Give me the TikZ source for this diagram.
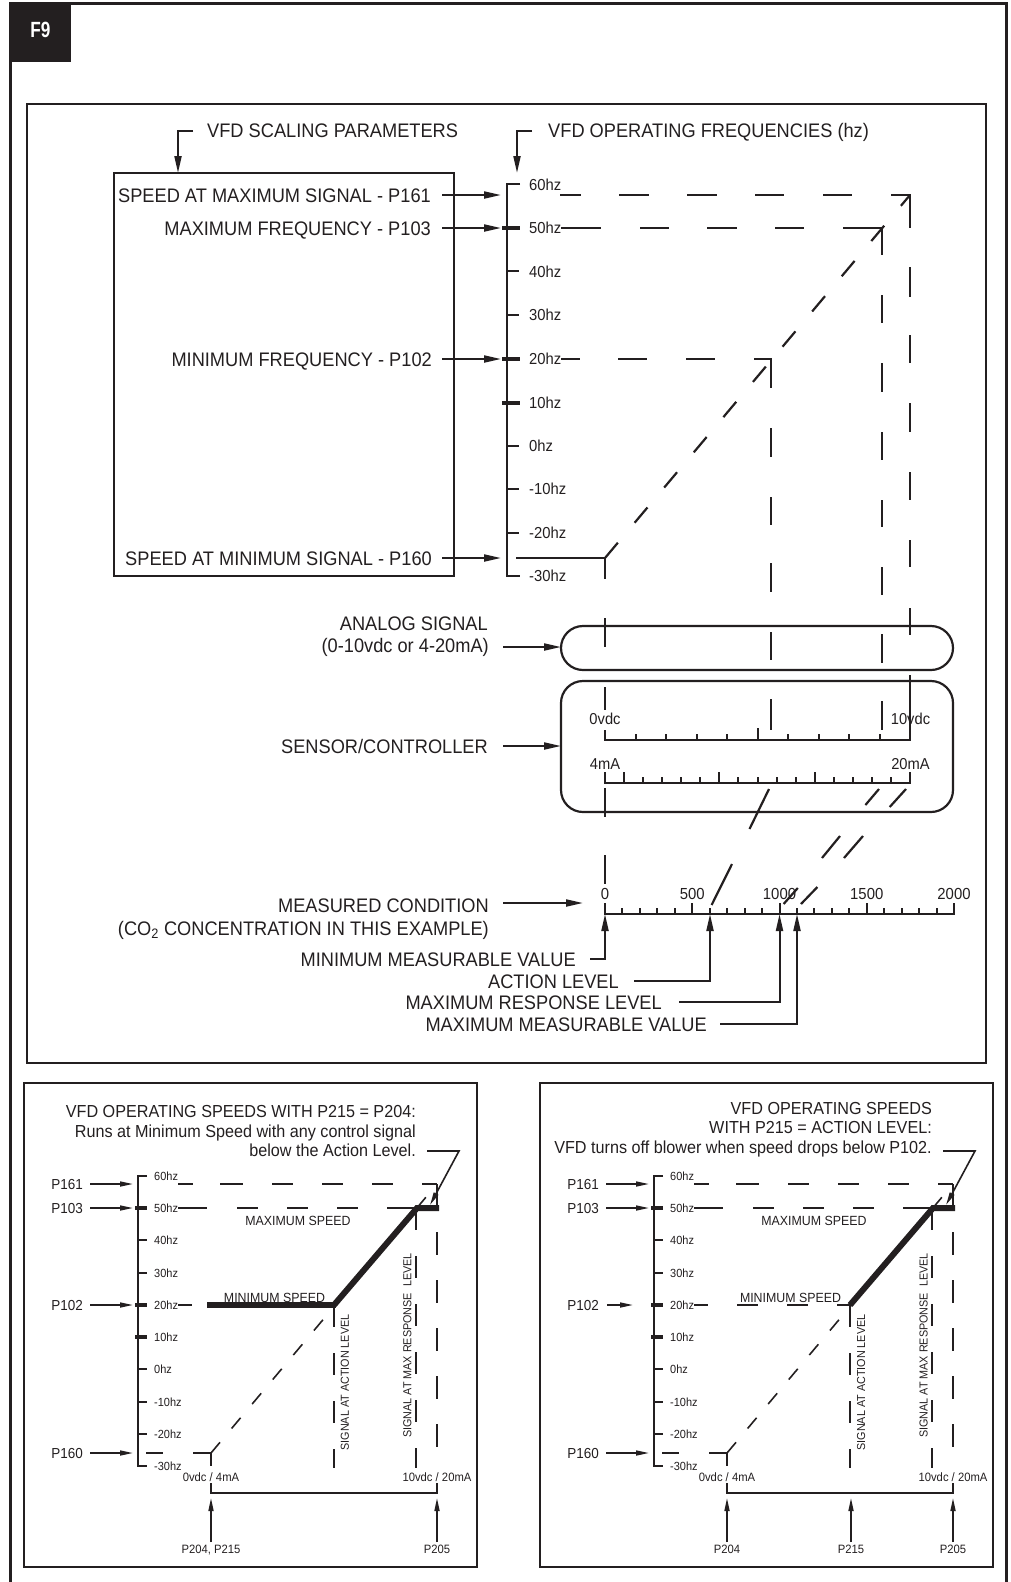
\documentclass[tikz,border=0pt]{standalone}
\usepackage{fontspec}
\setmainfont{Liberation Sans}[FakeStretch=0.93]
\usepackage{graphicx}
\usetikzlibrary{arrows.meta}
\definecolor{ink}{HTML}{231F20}
\newcommand{\fsz}[1]{\fontsize{#1}{#1}\selectfont}
\begin{document}
\begin{tikzpicture}[x=1pt,y=-1pt,color=ink,line join=miter,
 frame/.style={line width=3pt},
 boxl/.style={line width=2.5pt},
 axl/.style={line width=2pt},
 dashl/.style={line width=2.2pt},
 boldtick/.style={line width=4.5pt},
 bigarr/.style={line width=2pt,-{Triangle[length=17pt,width=7pt]}},
 mainlbl/.style={inner sep=0pt,font=\fsz{19.6}},
 hzlbl/.style={inner sep=0pt,font=\fsz{15.9},anchor=base west},
 scalelbl/.style={inner sep=0pt,font=\fsz{15.8},anchor=base},
 pboxl/.style={line width=2.2pt},
 paxl/.style={line width=1.8pt},
 pline/.style={line width=1.6pt},
 pbold/.style={line width=3.5pt},
 parr/.style={line width=1.6pt,-{Triangle[length=13pt,width=5pt]}},
 pvdash/.style={line width=1.6pt,dash pattern=on 22pt off 26pt},
 pddash/.style={line width=1.6pt,dash pattern=on 14pt off 18pt},
 thickl/.style={line width=6pt},
 ptitle/.style={inner sep=0pt,font=\fsz{17.4},anchor=base east},
 plbl/.style={inner sep=0pt,font=\fsz{14.5},anchor=base east},
 phz/.style={inner sep=0pt,font=\fsz{11.8},anchor=base west},
 psmall/.style={inner sep=0pt,font=\fsz{12.1},anchor=base},
 pspeed/.style={inner sep=0pt,font=\fsz{13.3},anchor=base},
 prot/.style={inner sep=0pt,font=\fsz{11.6},rotate=90},
]
\useasboundingbox (0,0) rectangle (1010,1582);
% outer frame and badge
\draw[frame] (10,1590) -- (10,3) -- (1006,3) -- (1006,1590);
\fill (10,3) rectangle (71,62);
\node[inner sep=0pt,text=white,font=\bfseries\fsz{22}] (f9) at (40.5,29.5) {\scalebox{0.84}[1]{F9}};
% top boxes
\draw[boxl] (27,104) rectangle (986,1063);
\draw[boxl] (114,173) rectangle (454,576);
% headings
\node[mainlbl,anchor=base west] (hsp) at (207,137) {VFD SCALING PARAMETERS};
\node[mainlbl,anchor=base west] (hof) at (548,137) {VFD OPERATING FREQUENCIES (hz)};
\draw[bigarr] (193,131) -- (178,131) -- (178,173);
\draw[bigarr] (532,131) -- (517,131) -- (517,173);
% parameter labels
\node[mainlbl,anchor=base east] (t161) at (431,202) {SPEED AT MAXIMUM SIGNAL - P161};
\node[mainlbl,anchor=base east] (t103) at (431,235) {MAXIMUM FREQUENCY - P103};
\node[mainlbl,anchor=base east] (t102) at (432,366) {MINIMUM FREQUENCY - P102};
\node[mainlbl,anchor=base east] (t160) at (432,565) {SPEED AT MINIMUM SIGNAL - P160};
\draw[bigarr] (442,195) -- (501,195);
\draw[bigarr] (442,228) -- (501,228);
\draw[bigarr] (442,359) -- (501,359);
\draw[bigarr] (442,558) -- (501,558);
% frequency axis
\draw[axl] (520,184) -- (507,184) -- (507,576) -- (520,576);
\foreach \y in {271,315,446,489,533} \draw[axl] (507,\y) -- (519,\y);
\foreach \y in {228,359,403} \draw[boldtick] (502,\y) -- (520,\y);
\foreach \t/\y in {60hz/185,50hz/228,40hz/272,30hz/315,20hz/359,10hz/403,0hz/446,-10hz/489,-20hz/533,-30hz/576}
  \node[hzlbl] at (529,\y+5.7) {\t};
% dashed guide lines
\foreach \a/\b in {560/581,619/649,687/717,755/784,823/852} \draw[dashl] (\a,195) -- (\b,195);
\draw[dashl] (891,195) -- (910,195) -- (910,228);
\foreach \a/\b in {267/297,335/363,403/432,472/500,540/567,608/635,675/740} \draw[dashl] (910,\a) -- (910,\b);
\foreach \a/\b in {561/601,640/669,707/737,775/804} \draw[dashl] (\a,228) -- (\b,228);
\draw[dashl] (843,228) -- (882,228) -- (882,255);
\foreach \a/\b in {295/323,363/392,432/460,500/527,567/595,634/663,701/730} \draw[dashl] (882,\a) -- (882,\b);
\foreach \a/\b in {561/580,618/647,686/715} \draw[dashl] (\a,359) -- (\b,359);
\draw[dashl] (754,359) -- (771,359) -- (771,388);
\foreach \a/\b in {428/457,497/525,563/592,632/660,699/730} \draw[dashl] (771,\a) -- (771,\b);
\draw[dashl] (516,558) -- (605,558) -- (605,579);
\foreach \a/\b in {618/647,687/710,788/817,855/884} \draw[dashl] (605,\a) -- (605,\b);
\draw[dashl,dash pattern=on 20pt off 26pt] (605,558) -- (910,195);
% analog signal and sensor boxes
\draw[pboxl,rounded corners=22pt] (561,626) rectangle (953,670);
\draw[pboxl,rounded corners=22pt] (561,681) rectangle (953,812);
\node[mainlbl,anchor=base east] (tan1) at (488,630) {ANALOG SIGNAL};
\node[mainlbl,anchor=base east] (tan2) at (489,652) {(0-10vdc or 4-20mA)};
\node[mainlbl,anchor=base east] (tsen) at (488,753) {SENSOR/CONTROLLER};
\draw[bigarr] (503,647) -- (561,647);
\draw[bigarr] (503,746) -- (561,746);
% vdc scale
\draw[axl] (605,730) -- (605,740) -- (910,740) -- (910,730);
\foreach \k in {1,2,3,4,6,7,8,9} \draw[axl] ({605+30.5*\k},740) -- ({605+30.5*\k},734);
\draw[axl] ({605+30.5*5},740) -- ({605+30.5*5},728);
\node[scalelbl] at (605,724.6) {0vdc};
\node[scalelbl] at (910.5,724.6) {10vdc};
% mA scale
\draw[axl] (605,772) -- (605,783) -- (910,783) -- (910,772);
\foreach \k in {2,3,4,5,7,8,9,10,12,13,14,15} \draw[axl] ({605+19.0625*\k},783) -- ({605+19.0625*\k},777);
\foreach \k in {1,6,11} \draw[axl] ({605+19.0625*\k},783) -- ({605+19.0625*\k},772);
\node[scalelbl] at (605,769) {4mA};
\node[scalelbl] at (910.5,769) {20mA};
% mapping slashes
\draw[dashl] (769,789) -- (749.5,829);
\draw[dashl] (732,864) -- (711.6,905);
\draw[dashl] (879,789) -- (865.4,805);
\draw[dashl] (840,836) -- (822,858);
\draw[dashl] (797.8,888) -- (783.6,904);
\draw[dashl] (906,789) -- (889.7,807);
\draw[dashl] (863,836) -- (844,858);
\draw[dashl] (817.4,887) -- (801,904);
% measured condition scale
\draw[axl] (605,903) -- (605,914) -- (954,914) -- (954,903);
\foreach \k in {1,2,3,4,6,7,8,9,11,12,13,14,16,17,18,19} \draw[axl] ({605+17.45*\k},914) -- ({605+17.45*\k},908);
\foreach \k in {5,10,15} \draw[axl] ({605+17.45*\k},914) -- ({605+17.45*\k},903);
\foreach \t/\k in {0/0,500/5,1000/10,1500/15,2000/20} \node[scalelbl,font=\fsz{16}] at ({605+17.45*\k},899) {\t};
\node[mainlbl,anchor=base east] (tmc1) at (489,912) {MEASURED CONDITION};
\node[mainlbl,anchor=base east] (tmc2) at (489,935) {(CO\textsubscript{2} CONCENTRATION IN THIS EXAMPLE)};
\draw[bigarr] (503,903) -- (583,903);
\node[mainlbl,anchor=base east] (tminm) at (576,966) {MINIMUM MEASURABLE VALUE};
\node[mainlbl,anchor=base east] (tact) at (619,988) {ACTION LEVEL};
\node[mainlbl,anchor=base east] (tmaxr) at (662,1009.5) {MAXIMUM RESPONSE LEVEL};
\node[mainlbl,anchor=base east] (tmaxm) at (707,1031) {MAXIMUM MEASURABLE VALUE};
\draw[bigarr] (590,959) -- (605,959) -- (605,914);
\draw[bigarr] (634,981) -- (710,981) -- (710,914);
\draw[bigarr] (679,1002) -- (779.5,1002) -- (779.5,914);
\draw[bigarr] (720,1024) -- (797,1024) -- (797,914);
% ---------------- bottom panels ----------------
\foreach \dx/\nm in {0/L,516/R}{
\begin{scope}[xshift=\dx pt]
 \draw[pboxl] (24,1083) rectangle (477,1567);
 \draw[paxl] (147,1176) -- (138,1176) -- (138,1466) -- (147,1466);
 \foreach \y in {1240,1273,1369,1402,1434} \draw[paxl] (138,\y) -- (147,\y);
 \foreach \y in {1208,1305,1337} \draw[pbold] (135,\y) -- (147,\y);
 \foreach \t/\y in {60hz/1176,50hz/1208,40hz/1240,30hz/1273,20hz/1305,10hz/1337,0hz/1369,-10hz/1402,-20hz/1434,-30hz/1466}
   \node[phz] at (154,\y+4.5) {\t};
 \node[plbl] (\nm161) at (83,1189) {P161};
 \node[plbl] (\nm103) at (83,1213) {P103};
 \node[plbl] (\nm102) at (83,1310) {P102};
 \node[plbl] (\nm160) at (83,1458) {P160};
 \draw[parr] (90,1184) -- (133,1184);
 \draw[parr] (90,1208) -- (133,1208);
 \draw[parr] (90,1453) -- (133,1453);
 % dashed guides
 \foreach \a/\b in {178/193,220/243,272/293,322/343,372/393} \draw[pline] (\a,1184) -- (\b,1184);
 \draw[pline] (422,1184) -- (437,1184);
 \draw[pline,dash pattern=on 23pt off 25pt] (437,1184) -- (437,1468);
 \foreach \a/\b in {178/207,237/258,287/308,337/358,387/415} \draw[pline] (\a,1208) -- (\b,1208);
 \foreach \a/\b in {178/192,221/242,271/292,321/334} \draw[pline] (\a,1305) -- (\b,1305);
 \foreach \a/\b in {146/163,193/211} \draw[pline] (\a,1453) -- (\b,1453);
 \draw[pline] (211,1453) -- (211,1466);
 \draw[pddash] (211,1453) -- (437,1184);
 \draw[pvdash] (334,1305) -- (334,1468);
 \draw[pvdash] (416,1208) -- (416,1468);
 \draw[thickl] (334,1305) -- (417,1208) -- (439,1208);
 \node[pspeed] (\nm maxs) at (298,1225) {MAXIMUM SPEED};
 \node[pspeed] (\nm mins) at (274.5,1302.7) {MINIMUM SPEED};
 \node[prot] (\nm sa) at (345,1382.5) {SIGNAL AT ACTION LEVEL};
 \node[prot] (\nm sm) at (407.5,1345.5) {SIGNAL AT MAX RESPONSE\ \ LEVEL};
 \node[psmall] (\nm v0) at (211,1481.5) {0vdc / 4mA};
 \node[psmall] (\nm v10) at (437,1481.5) {10vdc / 20mA};
 \draw[pline] (211,1483) -- (211,1493) -- (437,1493) -- (437,1483);
 \draw[parr] (211,1542) -- (211,1498);
 \draw[parr] (437,1542) -- (437,1498);
 \draw[parr] (427,1151) -- (459,1151) -- (430,1205);
\end{scope}
}
% left panel specifics
\node[ptitle] (lt1) at (416,1117.3) {VFD OPERATING SPEEDS WITH P215 = P204:};
\node[ptitle] (lt2) at (416,1137.3) {Runs at Minimum Speed with any control signal};
\node[ptitle] (lt3) at (416,1156.5) {below the Action Level.};
\draw[thickl] (207,1305) -- (336,1305);
\draw[parr] (90,1305) -- (133,1305);
\node[psmall] (lp204) at (211,1553) {P204, P215};
\node[psmall] (lp205) at (437,1553) {P205};
% right panel specifics
\node[ptitle] (rt1) at (932,1114.3) {VFD OPERATING SPEEDS};
\node[ptitle] (rt2) at (932,1133.3) {WITH P215 = ACTION LEVEL:};
\node[ptitle] (rt3) at (932,1153.3) {VFD turns off blower when speed drops below P102.};
\draw[parr] (607,1305) -- (633,1305);
\draw[parr] (851,1542) -- (851,1498);
\node[psmall] (rp204) at (727,1553) {P204};
\node[psmall] (rp215) at (851,1553) {P215};
\node[psmall] (rp205) at (953,1553) {P205};
\end{tikzpicture}
\end{document}
